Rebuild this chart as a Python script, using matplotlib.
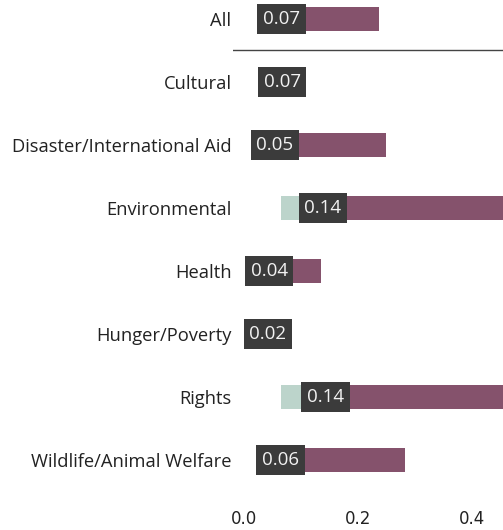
import matplotlib
matplotlib.use("Agg")
import matplotlib.pyplot as plt
import numpy as np

categories = ["All", "Cultural", "Disaster/International Aid", "Environmental",
              "Health", "Hunger/Poverty", "Rights", "Wildlife/Animal Welfare"]
low = [0.04, 0.04, 0.02, 0.065, 0.01, 0.003, 0.065, 0.03]
est = [0.066, 0.067, 0.054, 0.138, 0.044, 0.02, 0.143, 0.064]
high = [0.237, 0.10, 0.249, 0.47, 0.135, 0.07, 0.47, 0.282]

teal = "#bcd4cb"
purple = "#85526c"
dark = "#3b3b3b"

fig = plt.figure(figsize=(5.03, 5.30), dpi=100)
ax = fig.add_axes([0.4632, 0.0726, 0.5368, 0.9274])

y = np.arange(len(categories))
low = np.array(low)
est = np.array(est)
high = np.array(high)

ax.barh(y, est - low, left=low, height=0.37, color=teal, zorder=2)
ax.barh(y, high - est, left=est, height=0.37, color=purple, zorder=2)

for yi, e in zip(y, est):
    # keep the label box from running past zero
    xc = max(e, 0.042)
    ax.text(xc, yi, f"{e:.2f}", ha="center", va="center", color="#f2f2f2",
            fontsize=13.5, family="Open Sans", zorder=3,
            bbox=dict(boxstyle="square,pad=0.3", fc=dark, ec="none"))

ax.axhline(0.5, color="#444444", lw=1)

ax.set_xlim(-0.0193, 0.454)
ax.set_ylim(7.5, -0.3)
ax.set_yticks(y)
ax.set_yticklabels(categories, family="Open Sans", fontsize=13.2, color="#222222")
ax.set_xticks([0.0, 0.2, 0.4])
ax.set_xticklabels(["0.0", "0.2", "0.4"], family="DejaVu Sans", fontsize=12,
                   color="#222222")
ax.tick_params(axis="both", length=0)
ax.tick_params(axis="y", pad=1)
ax.tick_params(axis="x", pad=13)
for s in ax.spines.values():
    s.set_visible(False)

fig.savefig("out.png", dpi=100)
